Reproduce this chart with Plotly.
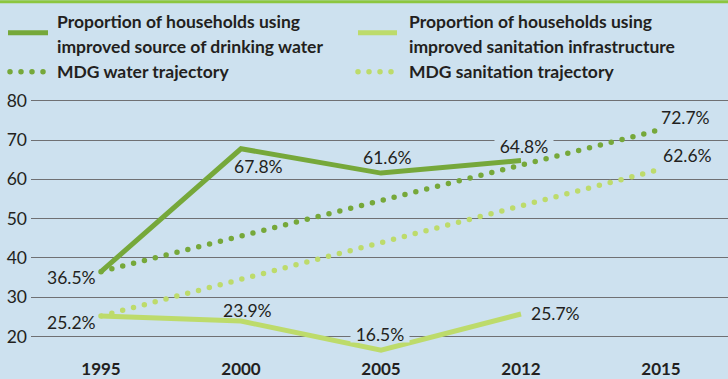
import plotly.graph_objects as go

# ---------------- data ----------------
years = ["1995", "2000", "2005", "2012", "2015"]
water_years = ["1995", "2000", "2005", "2012"]
water = [36.5, 67.8, 61.6, 64.8]
sanit_years = ["1995", "2000", "2005", "2012"]
sanitation = [25.2, 23.9, 16.5, 25.7]
traj_years = ["1995", "2015"]
water_traj = [36.5, 72.7]
sanit_traj = [25.2, 62.6]
y_ticks = [20, 30, 40, 50, 60, 70, 80]

legend_water = ["Proportion of households using", "improved source of drinking water", "MDG water trajectory"]
legend_sanit = ["Proportion of households using", "improved sanitation infrastructure", "MDG sanitation trajectory"]

# ---------------- style ----------------
BG = "#cde1ef"
DARK = "#76a83a"
LIME = "#bddb6b"
TXT = "#231f20"
GRID = "#6f7073"
FONT = "Lato"

W, H = 728, 379
ML, MR, MT = 31, 0, 92.65
Y0, Y1 = 14.5, 82
MB = 21.4
plotH = H - MT - MB
plotW = W - ML - MR


def py(ypx):
    return 1 + (MT - ypx) / plotH


def px(xpx):
    return (xpx - ML) / plotW


fig = go.Figure()

fig.add_trace(go.Scatter(x=water_years, y=water, mode="lines",
                         line=dict(color=DARK, width=5), showlegend=False, hoverinfo="skip"))
fig.add_trace(go.Scatter(x=sanit_years, y=sanitation, mode="lines",
                         line=dict(color=LIME, width=5), showlegend=False, hoverinfo="skip"))
fig.add_trace(go.Scatter(x=traj_years, y=water_traj, mode="lines",
                         line=dict(color=DARK, width=5.5, dash="0px,11.2px"), showlegend=False, hoverinfo="skip"))
fig.add_trace(go.Scatter(x=traj_years, y=sanit_traj, mode="lines",
                         line=dict(color=LIME, width=5.5, dash="0px,11.2px"), showlegend=False, hoverinfo="skip"))

annots = []
lab_font = dict(family=FONT, size=17.5, color=TXT)


def lab(x, v, xanchor, xshift, yshift, bg=False):
    d = dict(x=years.index(x), y=v, xref="x", yref="y", text=f"{v}%", showarrow=False,
             xanchor=xanchor, yanchor="middle", xshift=xshift, yshift=yshift,
             font=lab_font, borderpad=0)
    if bg:
        d.update(bgcolor=BG, width=58, height=16)
    annots.append(d)


# water labels
lab(water_years[0], water[0], "right", -4, -5.5)
lab(water_years[1], water[1], "left", -8, -18)
lab(water_years[2], water[2], "center", 6, 16)
lab(water_years[3], water[3], "center", 3, 15, bg=True)
lab(traj_years[1], water_traj[1], "left", -1, 12.5)
# sanitation labels
lab(sanit_years[0], sanitation[0], "right", -4, -7)
lab(sanit_years[1], sanitation[1], "center", 6, 11)
lab(sanit_years[2], sanitation[2], "center", -1, 16, bg=True)
lab(sanit_years[3], sanitation[3], "left", 9, 1)
lab(traj_years[1], sanit_traj[1], "left", 1, 13.5)

# legend (manual)
leg_font = dict(family=FONT, size=17.5, color=TXT, weight="bold")
for col_x, texts in ((55, legend_water), (407, legend_sanit)):
    for i, t in enumerate(texts):
        annots.append(dict(x=px(col_x), y=py(21 + 25 * i), xref="paper", yref="paper",
                           text=t, showarrow=False, xanchor="left", yanchor="middle",
                           font=leg_font))

shapes = [
    dict(type="rect", xref="paper", yref="paper", x0=px(0), x1=px(W), y0=py(0), y1=py(3),
         fillcolor="#8cc63f", line=dict(width=0), layer="above"),
    dict(type="line", xref="paper", yref="paper", x0=px(8), x1=px(48), y0=py(32.5), y1=py(32.5),
         line=dict(color=DARK, width=5)),
    dict(type="line", xref="paper", yref="paper", x0=px(358), x1=px(397), y0=py(32.5), y1=py(32.5),
         line=dict(color=LIME, width=5)),
    dict(type="line", xref="paper", yref="paper", x0=px(10), x1=px(43.2), y0=py(71.5), y1=py(71.5),
         line=dict(color=DARK, width=5.5, dash="0px,11px")),
    dict(type="line", xref="paper", yref="paper", x0=px(358), x1=px(391.2), y0=py(71.5), y1=py(71.5),
         line=dict(color=LIME, width=5.5, dash="0px,11px")),
]

fig.update_layout(
    width=W, height=H,
    margin=dict(l=ML, r=MR, t=MT, b=MB, pad=0, autoexpand=False),
    paper_bgcolor=BG, plot_bgcolor=BG,
    showlegend=False,
    annotations=annots,
    shapes=shapes,
    xaxis=dict(type="category", categoryorder="array", categoryarray=years,
               range=[-0.5, -0.5 + plotW / 140.0], showgrid=False, zeroline=False,
               showline=False, ticks="", tickvals=years, ticktext=years,
               tickfont=dict(family=FONT, size=17, color=TXT, weight="bold"),
               ticklabelstandoff=-1),
    yaxis=dict(range=[Y0, Y1], tickvals=y_ticks, showgrid=True, gridcolor=GRID, gridwidth=1.2,
               zeroline=False, showline=False, ticks="",
               tickfont=dict(family=FONT, size=17.5, color=TXT), ticklabelstandoff=3),
)

post = """
var gd = document.getElementById('{plot_id}');
function fixCaps(){
  gd.querySelectorAll('path').forEach(function(p){
    var d = p.style.strokeDasharray;
    if (d && d !== 'none' && d !== '') { p.style.strokeLinecap = 'round'; }
  });
}
fixCaps();
if (gd.on) { gd.on('plotly_afterplot', fixCaps); }
"""

fig.write_html("out.html", post_script=post)
